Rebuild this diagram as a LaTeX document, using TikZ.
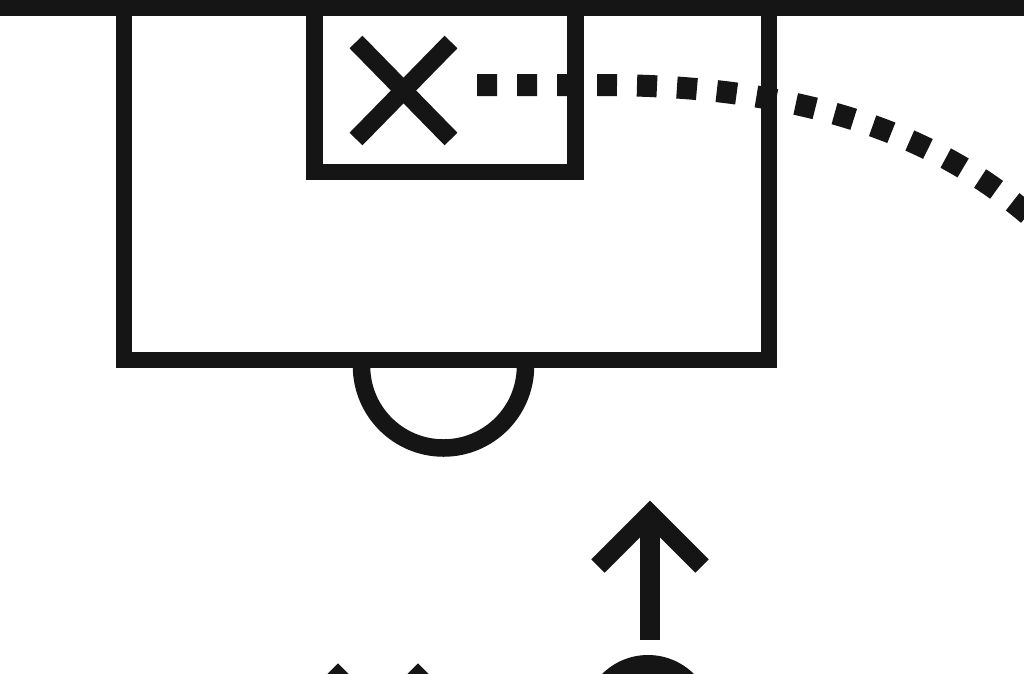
\documentclass[tikz,border=0pt]{standalone}
\usetikzlibrary{calc}
\definecolor{ink}{HTML}{151515}
\tikzset{
  pitchline/.style={draw=ink, line width=16.5pt, line join=miter, line cap=butt},
  dotted path/.style={draw=ink, line width=22pt, dash pattern=on 20pt off 20pt},
}
\begin{document}
\begin{tikzpicture}[x=1pt,y=-1pt]
\useasboundingbox (0,0) rectangle (1024,673);
\clip (0,0) rectangle (1024,673);
\fill[white] (0,0) rectangle (1024,673);
% goal line
\fill[ink] (-5,0) rectangle (1030,15.5);
% penalty area
\draw[pitchline] (124,10) -- (124,360) -- (769,360) -- (769,10);
% goal area
\draw[pitchline] (314.5,10) -- (314.5,172) -- (575.5,172) -- (575.5,10);
% penalty arc
\draw[pitchline, line width=17.5pt] (361.5,366) arc[start angle=180, end angle=0, radius=82];
% cross
\draw[pitchline, line width=18pt] (356,42) -- (451,139);
\draw[pitchline, line width=18pt] (451,42) -- (356,139);
% dotted path
\draw[dotted path] (477,85) -- (600,85) .. controls (760,85) and (920,115) .. (1040,225);
% arrow
\draw[pitchline, line width=20pt] (650,640) -- (650,515);
\draw[pitchline, line width=19pt] (598,566) -- (650,514) -- (702,566);
% player head
\fill[ink] (648,720) circle[radius=65];
% chevrons at bottom left
\draw[pitchline] (300,713) -- (338,675) -- (376,713);
\draw[pitchline] (380,713) -- (418,675) -- (456,713);
\end{tikzpicture}
\end{document}
